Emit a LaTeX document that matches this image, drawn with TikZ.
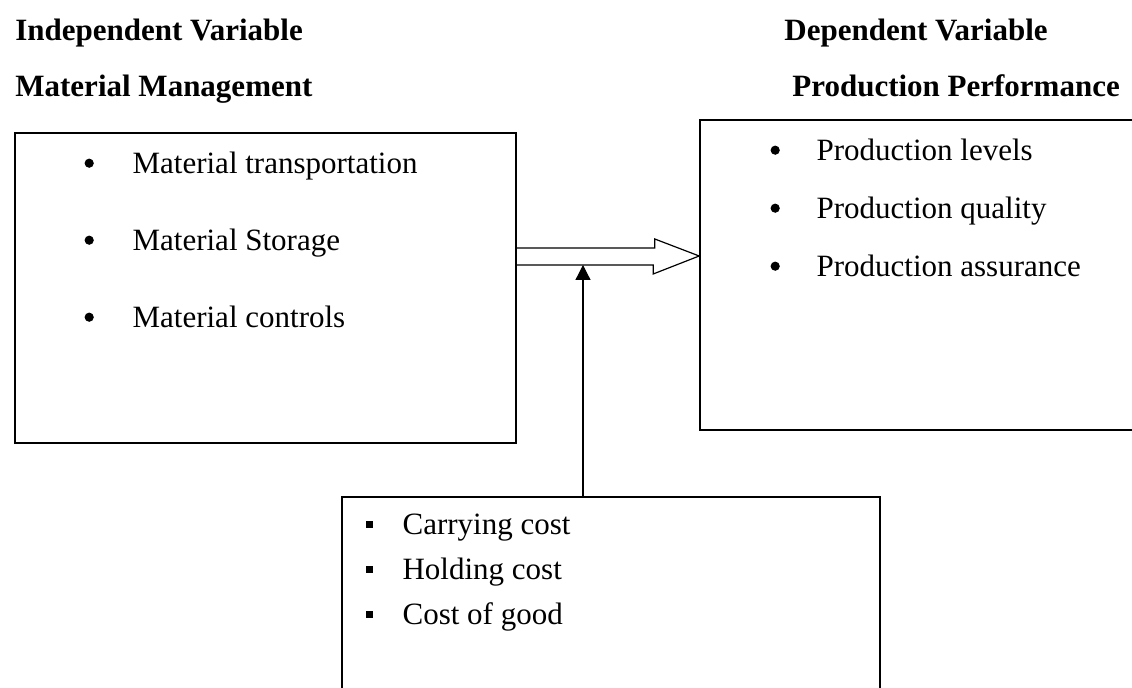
\documentclass[tikz,border=0pt]{standalone}
\usepackage{fontspec}
\setmainfont{Liberation Serif}
\usetikzlibrary{positioning,arrows.meta,calc}
\tikzset{
    every node/.style={font=\fontsize{15.5}{18}\selectfont},
    heading/.style={anchor=base west,inner sep=0pt,font=\fontsize{15.5}{18}\selectfont\bfseries},
    panel/.style={draw,line width=0.8pt,inner sep=0pt},
    entry/.style={anchor=base west,inner sep=0pt},
    dotmark/.style={circle,fill,inner sep=0pt,minimum size=4.6pt},
    sqmark/.style={rectangle,fill,inner sep=0pt,minimum size=3.6pt},
    link/.style={draw,line width=0.6pt}
}

\begin{document}
\begin{tikzpicture}[
x=0.5pt,y=-0.5pt
]
\useasboundingbox (0,0) rectangle (1132,688);
\clip (0,0) rectangle (1132,688);

\node[heading] (indep) at (15,41) {Independent Variable};
\node[heading] (mgmthead) at (15,97) {Material Management};
\node[heading] (dep) at (784,41) {Dependent Variable};
\node[heading] (perfhead) at (792,97) {Production Performance};

\node[panel,minimum width=250.5pt,minimum height=155pt] (mgmt) at (265.5,288) {};
\node[panel,minimum width=220pt,minimum height=155pt] (perf) at (920,275) {};
\node[panel,minimum width=269pt,minimum height=105pt] (cost) at (611,602) {};

\foreach \txt [count=\i] in {Material transportation,Material Storage,Material controls}{
    \node[entry] (mm\i) at ($(mgmt.north west)+(118,41+77*\i-77)$) {\txt};
    \node[dotmark] (mmdot\i) at ($(mm\i.base west)+(-43,-10)$) {};
}
\foreach \txt [count=\i] in {Production levels,Production quality,Production assurance}{
    \node[entry] (pp\i) at ($(perf.north west)+(117,41+58*\i-58)$) {\txt};
    \node[dotmark] (ppdot\i) at ($(pp\i.base west)+(-41,-10)$) {};
}
\foreach \txt [count=\i] in {Carrying cost,Holding cost,Cost of good}{
    \node[entry] (cc\i) at ($(cost.north west)+(61,38+45*\i-45)$) {\txt};
    \node[sqmark] (ccsq\i) at ($(cc\i.base west)+(-33,-10)$) {};
}

\coordinate (tip) at ($(perf.west)+(0,-19)$);
\draw[link] ($(mgmt.east)+(0,-40)$) -- ++(138,0) -- ++(0,-9) -- (tip)
    -- ++(-46,18) -- ++(0,-9) -- ($(mgmt.east)+(0,-23)$) coordinate (low);
\coordinate (stem) at ($(cost.north)+(-28,0)$);
\draw[link,-{Triangle[length=7.5pt,width=7.5pt]}] (stem) -- (stem |- low);
\end{tikzpicture}
\end{document}
